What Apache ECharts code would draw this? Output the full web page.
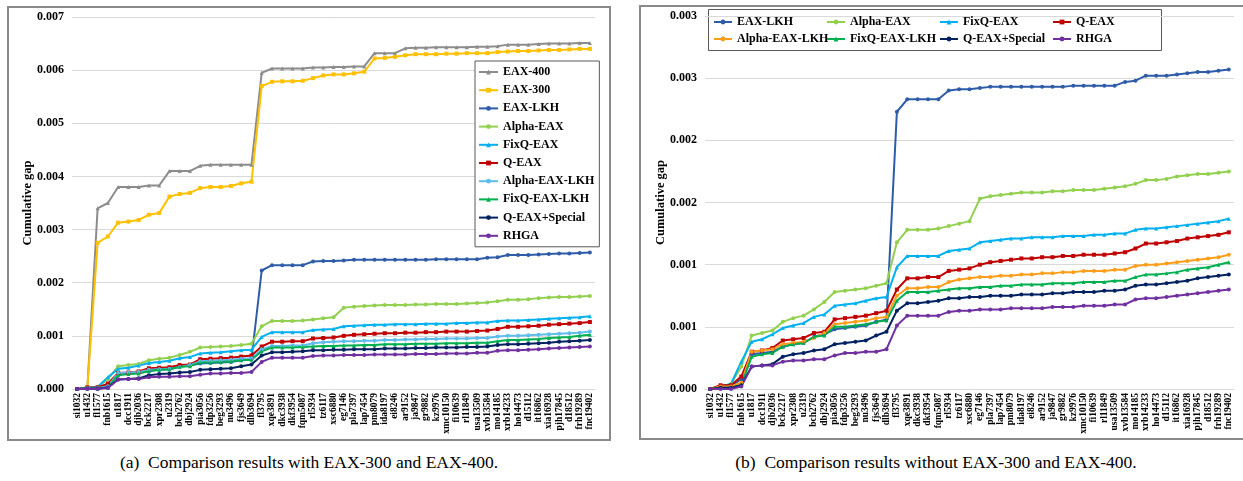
<!DOCTYPE html>
<html><head><meta charset="utf-8">
<script src="https://cdn.jsdelivr.net/npm/echarts@6/dist/echarts.min.js"></script>
<style>
html,body{margin:0;padding:0;background:#fff;width:1243px;height:481px;overflow:hidden;position:relative;font-family:"Liberation Serif",serif;}
.frame{position:absolute;border:2px solid #8a8a8a;box-sizing:border-box;}
.cap{position:absolute;font-family:"Liberation Serif",serif;font-size:17.5px;color:#000;white-space:nowrap;}
#ca,#cb{position:absolute;}
</style></head><body>
<div class="frame" style="left:7px;top:6px;width:604px;height:435px;"></div>
<div class="frame" style="left:639px;top:5px;width:606px;height:435px;"></div>
<div id="ca" style="left:0;top:0;width:620px;height:450px;"></div>
<div id="cb" style="left:620px;top:0;width:623px;height:450px;"></div>
<div class="cap" style="left:309px;top:452px;transform:translateX(-50%);">(a)&nbsp; Comparison results with EAX-300 and EAX-400.</div>
<div class="cap" style="left:936px;top:452px;transform:translateX(-50%);">(b)&nbsp; Comparison results without EAX-300 and EAX-400.</div>
<script>
const categories = ["si1032","u1432","fl1577","fnb1615","u1817","dcc1911","djb2036","bck2217","xpr2308","u2319","bch2762","dbj2924","pia3056","fdp3256","beg3293","nu3496","fjs3649","dlb3694","fl3795","xqe3891","dkc3938","dkf3954","fqm5087","rl5934","tz6117","xsc6880","eg7146","pla7397","lap7454","pm8079","ida8197","ei8246","ar9152","ja9847","gr9882","kz9976","xmc10150","fi10639","rl11849","usa13509","xvb13584","mo14185","xrb14233","ho14473","d15112","it16862","xia16928","pjh17845","d18512","frh19289","fnc19402"];

const eax400 = [0,0.00003,0.0034,0.0035,0.0038,0.0038,0.0038,0.00383,0.00383,0.0041,0.0041,0.0041,0.0042,0.00422,0.00422,0.00422,0.00422,0.00422,0.00595,0.00603,0.00603,0.00603,0.00603,0.00605,0.00605,0.00606,0.00606,0.00607,0.00607,0.00632,0.00632,0.00632,0.00641,0.00642,0.00642,0.00643,0.00643,0.00643,0.00643,0.00644,0.00644,0.00645,0.00648,0.00648,0.00648,0.00649,0.0065,0.0065,0.0065,0.00651,0.00651];
const eax300 = [0,0.00003,0.00275,0.00287,0.00313,0.00315,0.00318,0.00328,0.00331,0.00362,0.00367,0.00369,0.00378,0.0038,0.0038,0.00382,0.00387,0.0039,0.0057,0.00578,0.00579,0.00579,0.0058,0.00585,0.0059,0.00592,0.00592,0.00594,0.00597,0.00622,0.00623,0.00625,0.00628,0.0063,0.0063,0.0063,0.00631,0.00631,0.00632,0.00632,0.00632,0.00634,0.00635,0.00636,0.00636,0.00637,0.00638,0.00638,0.00639,0.0064,0.0064];
const eaxLKH = [0,0.00002,0.00002,0.00008,0.00028,0.00029,0.0003,0.00034,0.00036,0.00037,0.00042,0.00044,0.00048,0.00049,0.0005,0.00051,0.00054,0.00056,0.00223,0.00233,0.00233,0.00233,0.00233,0.0024,0.00241,0.00241,0.00242,0.00243,0.00243,0.00243,0.00243,0.00243,0.00243,0.00243,0.00243,0.00244,0.00244,0.00244,0.00244,0.00244,0.00247,0.00248,0.00252,0.00252,0.00252,0.00253,0.00254,0.00255,0.00255,0.00256,0.00257];
const alphaEAX = [0,0.00002,0.00004,0.00018,0.00043,0.00045,0.00047,0.00054,0.00057,0.00059,0.00064,0.0007,0.00078,0.00079,0.0008,0.00081,0.00083,0.00085,0.00118,0.00128,0.00128,0.00128,0.00129,0.00131,0.00133,0.00135,0.00153,0.00155,0.00156,0.00157,0.00158,0.00158,0.00158,0.00159,0.00159,0.0016,0.0016,0.0016,0.00161,0.00162,0.00163,0.00165,0.00168,0.00168,0.00169,0.00171,0.00172,0.00173,0.00173,0.00174,0.00175];
const fixqEAX = [0,0.00002,0.00004,0.00022,0.00038,0.0004,0.00044,0.00049,0.00051,0.00053,0.00058,0.0006,0.00067,0.00068,0.00069,0.00071,0.00073,0.00074,0.00098,0.00107,0.00107,0.00107,0.00107,0.00111,0.00112,0.00113,0.00118,0.00119,0.0012,0.00121,0.00121,0.00122,0.00122,0.00122,0.00123,0.00123,0.00123,0.00124,0.00124,0.00125,0.00125,0.00128,0.00129,0.00129,0.0013,0.00131,0.00132,0.00133,0.00134,0.00135,0.00137];
const qEAX = [0,0.00003,0.00003,0.0001,0.0003,0.00031,0.00033,0.00039,0.0004,0.00041,0.00045,0.00046,0.00056,0.00057,0.00058,0.00059,0.00061,0.00063,0.0008,0.00089,0.00089,0.0009,0.0009,0.00095,0.00096,0.00097,0.001,0.00102,0.00103,0.00104,0.00105,0.00105,0.00106,0.00106,0.00107,0.00107,0.00108,0.00108,0.00108,0.00109,0.0011,0.00113,0.00117,0.00117,0.00118,0.00119,0.00121,0.00122,0.00123,0.00124,0.00126];
const alphaEAXLKH = [0,0.00002,0.00002,0.00005,0.0003,0.00031,0.00032,0.00036,0.00037,0.00038,0.00041,0.00045,0.00052,0.00053,0.00054,0.00055,0.00057,0.00058,0.00075,0.00081,0.00081,0.00082,0.00082,0.00086,0.00088,0.00089,0.0009,0.0009,0.00091,0.00091,0.00092,0.00092,0.00093,0.00093,0.00094,0.00094,0.00095,0.00095,0.00095,0.00096,0.00096,0.00099,0.001,0.001,0.00101,0.00102,0.00103,0.00104,0.00105,0.00106,0.00108];
const fixqEAXLKH = [0,0.00001,0.00001,0.00003,0.00026,0.00028,0.00029,0.00034,0.00036,0.00037,0.00042,0.00043,0.0005,0.0005,0.00051,0.00052,0.00054,0.00055,0.00071,0.00078,0.00078,0.00078,0.00079,0.0008,0.00081,0.00081,0.00082,0.00082,0.00083,0.00083,0.00084,0.00084,0.00084,0.00085,0.00085,0.00085,0.00086,0.00086,0.00086,0.00087,0.00087,0.0009,0.00092,0.00092,0.00093,0.00094,0.00096,0.00097,0.00098,0.001,0.00102];
const qEAXSpecial = [0,0.00001,0.00001,0.00003,0.00018,0.00019,0.0002,0.00026,0.00028,0.00029,0.00031,0.00032,0.00036,0.00037,0.00038,0.00039,0.00043,0.00046,0.00063,0.00069,0.00069,0.0007,0.00071,0.00073,0.00073,0.00074,0.00074,0.00075,0.00075,0.00075,0.00076,0.00076,0.00076,0.00077,0.00077,0.00078,0.00078,0.00078,0.00079,0.00079,0.0008,0.00083,0.00084,0.00084,0.00085,0.00086,0.00087,0.00089,0.0009,0.00091,0.00092];
const rhga = [0,0,0,0.00002,0.00018,0.00019,0.00019,0.00022,0.00023,0.00023,0.00024,0.00024,0.00027,0.00029,0.00029,0.0003,0.0003,0.00032,0.00051,0.00059,0.00059,0.00059,0.00059,0.00062,0.00063,0.00063,0.00064,0.00064,0.00064,0.00065,0.00065,0.00065,0.00065,0.00066,0.00066,0.00066,0.00067,0.00067,0.00067,0.00068,0.00068,0.00072,0.00073,0.00073,0.00074,0.00075,0.00076,0.00077,0.00078,0.00079,0.0008];

const yMaxA = 0.007, yStepA = 0.001;
const yMaxB = 0.003, yStepB = 0.0005;
const legendNamesB = ["EAX-LKH","Alpha-EAX","FixQ-EAX","Q-EAX","Alpha-EAX-LKH","FixQ-EAX-LKH","Q-EAX+Special","RHGA"];

const FONT = "Liberation Serif";
function fmt(v){ return (Math.round(v*1000 + 1e-9)/1000).toFixed(3); }

function mk(name, data, color, symbol){
  return {name:name, type:'line', data:data, symbol:symbol||'circle', symbolSize:4,
    showSymbol:true, animation:false,
    lineStyle:{color:color, width:2}, itemStyle:{color:color}};
}
function base(gridCfg, yMax, yStep, nameGap){
  return {
    animation:false,
    grid:gridCfg,
    xAxis:{type:'category', data:categories, boundaryGap:true,
      axisLine:{lineStyle:{color:'#d9d9d9', width:1}}, axisTick:{show:false},
      axisLabel:{interval:0, rotate:90, fontFamily:FONT, fontWeight:'bold', fontSize:9.5, color:'#000', margin:4}},
    yAxis:{type:'value', min:0, max:yMax, interval:yStep,
      name:'Cumulative gap', nameLocation:'middle', nameGap:nameGap, nameRotate:90,
      nameMoveOverlap:false,
      nameTextStyle:{fontFamily:FONT, fontWeight:'bold', fontSize:12.5, color:'#000'},
      axisLine:{show:false}, axisTick:{show:false},
      splitLine:{lineStyle:{color:'#d9d9d9', width:1}},
      axisLabel:{formatter:fmt, fontFamily:FONT, fontWeight:'bold', fontSize:12, color:'#000', margin:8}}
  };
}

// Chart A
const ca = echarts.init(document.getElementById('ca'));
const optA = base({left:72, right:25, top:17, bottom:61}, yMaxA, yStepA, 38);
optA.series = [
  mk('EAX-400', eax400, '#8c8c8c', 'triangle'),
  mk('EAX-300', eax300, '#ffc000', 'rect'),
  mk('EAX-LKH', eaxLKH, '#2e5ca8', 'circle'),
  mk('Alpha-EAX', alphaEAX, '#92d050', 'circle'),
  mk('FixQ-EAX', fixqEAX, '#00b0f0', 'triangle'),
  mk('Q-EAX', qEAX, '#c00000', 'rect'),
  mk('Alpha-EAX-LKH', alphaEAXLKH, '#5ebdeb', 'circle'),
  mk('FixQ-EAX-LKH', fixqEAXLKH, '#00b050', 'triangle'),
  mk('Q-EAX+Special', qEAXSpecial, '#002060', 'circle'),
  mk('RHGA', rhga, '#7030a0', 'circle')
];
optA.legend = {orient:'vertical', left:475, top:61, itemWidth:19, itemHeight:6, itemGap:6.2,
  padding:[5,5,5,3], borderColor:'#595959', borderWidth:1, backgroundColor:'#fff',
  textStyle:{fontFamily:FONT, fontWeight:'bold', fontSize:12, lineHeight:12, color:'#000'}};
ca.setOption(optA);

// Chart B
const cb = echarts.init(document.getElementById('cb'));
const optB = base({left:85, right:9, top:16, bottom:61}, yMaxB, yStepB, 38);
optB.series = [
  mk('EAX-LKH', eaxLKH, '#2e5ca8', 'circle'),
  mk('Alpha-EAX', alphaEAX, '#92d050', 'circle'),
  mk('FixQ-EAX', fixqEAX, '#00b0f0', 'triangle'),
  mk('Q-EAX', qEAX, '#c00000', 'rect'),
  mk('Alpha-EAX-LKH', alphaEAXLKH, '#ff9e1b', 'circle'),
  mk('FixQ-EAX-LKH', fixqEAXLKH, '#00b050', 'triangle'),
  mk('Q-EAX+Special', qEAXSpecial, '#002060', 'circle'),
  mk('RHGA', rhga, '#7030a0', 'circle')
];
// one legend component per item, laid out in 4 fixed-width columns x 2 rows
optB.legend = legendNamesB.map(function(n, i){
  return {data:[n], orient:'horizontal', left:93 + (i % 4) * 113, top:16 + Math.floor(i / 4) * 17,
    itemWidth:18, itemHeight:6, padding:0,
    textStyle:{fontFamily:FONT, fontWeight:'bold', fontSize:12, lineHeight:12, color:'#000'}};
});
optB.graphic = [{type:'rect', left:88, top:9, z:-1, silent:true,
  shape:{width:453, height:41}, style:{fill:'#fff', stroke:'#595959', lineWidth:1}}];
cb.setOption(optB);
</script>
</body></html>
